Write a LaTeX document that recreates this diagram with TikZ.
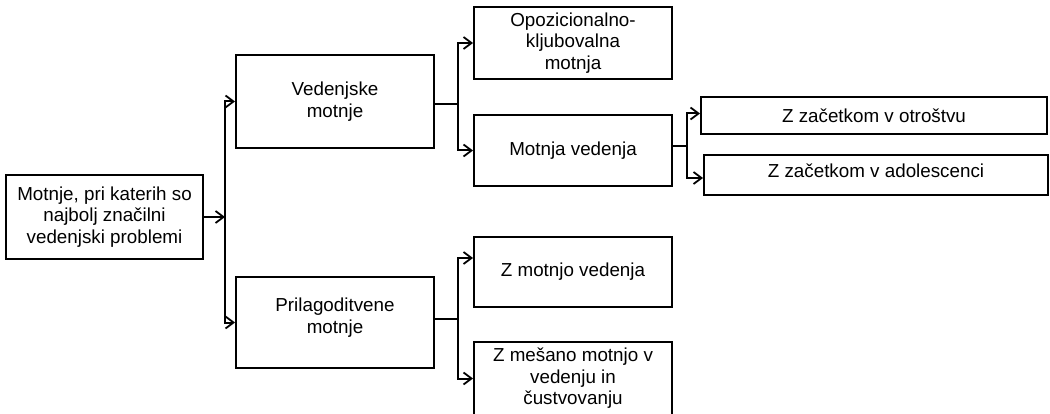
\documentclass[tikz,border=0pt]{standalone}
\usepackage{fontspec}
\setmainfont{Liberation Sans}
\usetikzlibrary{arrows.meta}
\begin{document}
\begin{tikzpicture}[x=1pt,y=-1pt,
  box/.style={draw=black,line width=2pt,inner sep=0pt,align=center,
    font=\fontsize{18.8}{21.5}\selectfont},
  conn/.style={line width=2pt,line cap=rect},
  arr/.style={line width=2pt,-{Straight Barb[length=8pt,width=12pt,line width=1.8pt]}}]
\useasboundingbox (0,0) rectangle (1050,414);
\node[box,minimum width=197pt,minimum height=84pt] (A) at (104.5,217) {Motnje, pri katerih so\\najbolj značilni\\vedenjski problemi};
\node[box,minimum width=198pt,minimum height=93pt] (B) at (335,101.5) {Vedenjske\\motnje};
\node[box,minimum width=198pt,minimum height=91pt] (C) at (335,322.5) {};
\node[font=\fontsize{18.8}{21.5}\selectfont,align=center,inner sep=0pt] (Ct) at (335,317.5) {Prilagoditvene\\motnje};
\node[box,minimum width=198pt,minimum height=72pt] (D) at (573,43) {Opozicionalno-\\kljubovalna\\motnja};
\node[box,minimum width=198pt,minimum height=71pt] (E) at (573,150.5) {Motnja vedenja};
\node[box,minimum width=346pt,minimum height=37pt] (F) at (874,115.5) {Z začetkom v otroštvu};
\node[box,minimum width=344pt,minimum height=40pt] (G) at (876,175) {};
\node[font=\fontsize{18.8}{21.5}\selectfont,inner sep=0pt] (Gt) at (876,171) {Z začetkom v adolescenci};
\node[box,minimum width=198pt,minimum height=70pt] (H) at (573,272) {Z motnjo vedenja};
\node[box,minimum width=198pt,minimum height=73pt] (I) at (573,378.5) {Z mešano motnjo v\\vedenju in\\čustvovanju};
\coordinate (b1) at (225,0);
\coordinate (b2) at (458,0);
\coordinate (b3) at (687,0);
\coordinate (hy) at (0,258);
% root bus
\draw[arr] (A.east) -- (A.east -| b1);
\draw[conn] (b1 |- B.west) -- (b1 |- C.west);
\draw[arr] (b1 |- B.west) -- (B.west);
\draw[arr] (b1 |- C.west) -- (C.west);
% B bus
\draw[conn] ([yshift=-2.5pt]B.east) -- ([yshift=-2.5pt]B.east -| b2);
\draw[conn] (b2 |- D.west) -- (b2 |- E.west);
\draw[arr] (b2 |- D.west) -- (D.west);
\draw[arr] (b2 |- E.west) -- (E.west);
% E bus
\draw[conn] ([yshift=4pt]E.east) -- ([yshift=4pt]E.east -| b3);
\draw[conn] ([yshift=2pt]b3 |- F.west) -- ([yshift=-3pt]b3 |- G.west);
\draw[arr] ([yshift=2pt]b3 |- F.west) -- ([yshift=2pt]F.west);
\draw[arr] ([yshift=-3pt]b3 |- G.west) -- ([yshift=-3pt]G.west);
% C bus
\draw[conn] ([yshift=3.5pt]C.east) -- ([yshift=3.5pt]C.east -| b2);
\draw[conn] (b2 |- hy) -- (b2 |- I.west);
\draw[arr] (b2 |- hy) -- (H.west |- hy);
\draw[arr] (b2 |- I.west) -- (I.west);
\end{tikzpicture}
\end{document}
